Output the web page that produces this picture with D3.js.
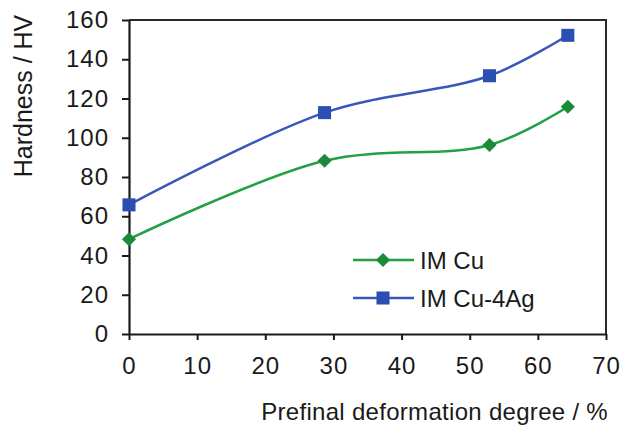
<!DOCTYPE html>
<html>
<head>
<meta charset="utf-8">
<script src="https://cdn.jsdelivr.net/npm/d3@7"></script>
<style>
  body { margin: 0; background: #fff; }
  text { font-family: "Liberation Sans", Arial, sans-serif; fill: #1a1a1a; }
</style>
</head>
<body>
<div id="chart"></div>
<script>
// values
var deformation = [0, 28.7, 52.9, 64.4];
var hvCu = [48.3, 88.3, 96.3, 115.8];
var hvCuAg = [65.8, 112.8, 131.6, 152.2];
var xTicks = [0, 10, 20, 30, 40, 50, 60, 70];
var yTicks = [0, 20, 40, 60, 80, 100, 120, 140, 160];
var seriesNames = ['IM Cu', 'IM Cu-4Ag'];

var width = 620, height = 435;
var plotLeft = 129, plotRight = 606, plotTop = 20, plotBottom = 334;

var svg = d3.select('#chart').append('svg')
  .attr('width', width)
  .attr('height', height);

var x = d3.scaleLinear().domain([0, 70]).range([plotLeft, plotRight]);
var y = d3.scaleLinear().domain([0, 160]).range([plotBottom, plotTop]);

// frame (top + right)
svg.append('path')
  .attr('d', 'M' + plotLeft + ',' + plotTop + 'H' + plotRight + 'V' + plotBottom)
  .attr('fill', 'none')
  .attr('stroke', '#2a2a2a')
  .attr('stroke-width', 2);

var xAxis = svg.append('g')
  .attr('transform', 'translate(0,' + plotBottom + ')')
  .call(d3.axisBottom(x).tickValues(xTicks).tickSize(6).tickPadding(17).tickSizeOuter(0));

var yAxis = svg.append('g')
  .attr('transform', 'translate(' + plotLeft + ',0)')
  .call(d3.axisLeft(y).tickValues(yTicks).tickSize(7).tickPadding(13).tickSizeOuter(0));

[xAxis, yAxis].forEach(function(g) {
  g.select('.domain').attr('stroke', '#1a1a1a').attr('stroke-width', 2.2);
  g.selectAll('.tick line').attr('stroke', '#1a1a1a').attr('stroke-width', 2);
  g.selectAll('.tick text')
    .attr('fill', '#1a1a1a')
    .style('font-size', '24px')
    .style('font-family', '"Liberation Sans", Arial, sans-serif')
    .style('letter-spacing', '1px');
});
xAxis.selectAll('.tick text').attr('dy', '0.71em');

// axis titles
svg.append('text')
  .attr('x', 608)
  .attr('y', 420)
  .attr('text-anchor', 'end')
  .style('font-size', '24px')
  .style('letter-spacing', '0.3px')
  .text('Prefinal deformation degree / %');

svg.append('text')
  .attr('transform', 'translate(32,96) rotate(-90)')
  .attr('text-anchor', 'middle')
  .style('font-size', '25px')
  .text('Hardness / HV');

var line = d3.line()
  .x(function(d) { return x(d[0]); })
  .y(function(d) { return y(d[1]); })
  .curve(d3.curveCatmullRom.alpha(0.5));

var series = [
  { name: seriesNames[0], values: hvCu, line: '#22a046', mark: '#1b8a3a', rot: 45, size: 100 },
  { name: seriesNames[1], values: hvCuAg, line: '#3a56b8', mark: '#2a4fb2', rot: 0, size: 170 }
];

series.forEach(function(s) {
  var pts = deformation.map(function(d, i) { return [d, s.values[i]]; });
  svg.append('path')
    .datum(pts)
    .attr('d', line)
    .attr('fill', 'none')
    .attr('stroke', s.line)
    .attr('stroke-width', 2.5);
  svg.selectAll(null)
    .data(pts)
    .enter()
    .append('path')
    .attr('transform', function(d) { return 'translate(' + x(d[0]) + ',' + y(d[1]) + ') rotate(' + s.rot + ')'; })
    .attr('d', d3.symbol().type(d3.symbolSquare).size(s.size))
    .attr('fill', s.mark);
});

// legend
var legend = svg.append('g').attr('transform', 'translate(353,260)');
series.forEach(function(s, i) {
  var row = legend.append('g').attr('transform', 'translate(0,' + (i * 38) + ')');
  row.append('line')
    .attr('x1', 0).attr('x2', 61)
    .attr('stroke', s.line)
    .attr('stroke-width', 2.5);
  row.append('path')
    .attr('transform', 'translate(30,0) rotate(' + s.rot + ')')
    .attr('d', d3.symbol().type(d3.symbolSquare).size(s.size))
    .attr('fill', s.mark);
  row.append('text')
    .attr('x', 67)
    .attr('dy', '0.36em')
    .style('font-size', '24px')
    .text(s.name);
});
</script>
</body>
</html>
